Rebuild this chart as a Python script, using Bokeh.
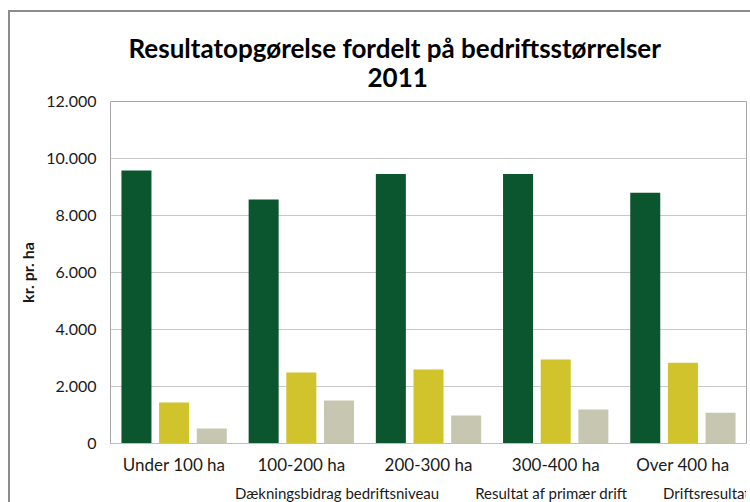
from bokeh.plotting import figure
from bokeh.layouts import column
from bokeh.models import (ColumnDataSource, FactorRange, Range1d, Legend, LegendItem,
                          Title, CustomJSTickFormatter, SingleIntervalTicker)
from bokeh.transform import dodge
from bokeh.embed import file_html
from bokeh.resources import INLINE

title_lines = ["Resultatopgørelse fordelt på bedriftsstørrelser", "2011"]
categories = ["Under 100 ha", "100-200 ha", "200-300 ha", "300-400 ha", "Over 400 ha"]
series_names = ["Dækningsbidrag bedriftsniveau", "Resultat af primær drift", "Driftsresultat"]
daekningsbidrag = [9580, 8560, 9460, 9460, 8800]
resultat_primaer = [1440, 2490, 2600, 2950, 2830]
driftsresultat = [530, 1510, 980, 1190, 1075]
colors = ["#0c562f", "#d1c32c", "#c7c7b1"]
y_label = "kr. pr. ha"

FONT = "Lato"

src = ColumnDataSource(dict(cat=categories, a=daekningsbidrag, b=resultat_primaer, c=driftsresultat))

p = figure(frame_width=636, frame_height=342, x_range=FactorRange(*categories), y_range=Range1d(0, 12000),
           output_backend="svg", toolbar_location=None,
           min_border_left=100, min_border_right=4, min_border_top=89, min_border_bottom=30)

offsets = [-0.296, 0.0, 0.296]
for key, off, col in zip(["a", "b", "c"], offsets, colors):
    p.vbar(x=dodge("cat", off, range=p.x_range), top=key, width=0.236, source=src,
           fill_color=col, line_color=None)

# axes
p.yaxis.ticker = SingleIntervalTicker(interval=2000)
p.yaxis.formatter = CustomJSTickFormatter(code="return tick.toFixed(0).replace(/\\B(?=(\\d{3})+(?!\\d))/g, '.');")
p.yaxis.axis_line_color = None
p.yaxis.major_tick_line_color = None
p.yaxis.minor_tick_line_color = None
p.yaxis.major_label_standoff = 8
p.yaxis.major_label_text_font = FONT
p.yaxis.major_label_text_font_size = "16px"
p.yaxis.major_label_text_color = "#1a1a1a"
p.yaxis.axis_label = y_label
p.yaxis.axis_label_text_font = FONT
p.yaxis.axis_label_text_font_style = "bold"
p.yaxis.axis_label_text_font_size = "16px"
p.yaxis.axis_label_text_color = "#1a1a1a"
p.yaxis.axis_label_standoff = 6

p.xaxis.axis_line_color = "#c0c0c0"
p.xaxis.major_tick_line_color = None
p.xaxis.minor_tick_line_color = None
p.xaxis.major_label_standoff = 4
p.xaxis.major_label_text_font = FONT
p.xaxis.major_label_text_font_size = "17px"
p.xaxis.major_label_text_color = "#1a1a1a"

p.xgrid.grid_line_color = None
p.ygrid.grid_line_color = "#c8c8c8"
p.outline_line_color = "#a6a6a6"
p.background_fill_color = "white"
p.border_fill_color = "white"

# titles: the one added first sits nearest the frame
p.add_layout(Title(text=title_lines[1], align="left", offset=257, standoff=30,
                   text_font=FONT, text_font_style="bold", text_font_size="26px",
                   text_color="#000000"), "above")
p.add_layout(Title(text=title_lines[0], align="left", offset=18, standoff=-26,
                   text_font=FONT, text_font_style="bold", text_font_size="26px",
                   text_color="#000000"), "above")

# legend strip below the chart (its own small plot so the legend sits inside a frame)
leg = figure(width=740, height=29, x_range=Range1d(0, 1), y_range=Range1d(0, 1),
             x_axis_type=None, y_axis_type=None, output_backend="svg", toolbar_location=None,
             min_border=0)
leg.outline_line_color = None
leg.background_fill_color = "white"
leg.border_fill_color = "white"
key_renderers = []
for col in colors:
    key_renderers.append(leg.vbar(x=[], top=[], width=0.1, fill_color=col, line_color=None))

legend = Legend(items=[LegendItem(label=n, renderers=[r]) for n, r in zip(series_names, key_renderers)],
                orientation="horizontal", location=(113, 4),
                glyph_width=9, glyph_height=9, label_standoff=3, spacing=24, label_height=16,
                label_text_font=FONT, label_text_font_size="15px", label_text_color="#1a1a1a",
                border_line_color=None, background_fill_alpha=0, padding=0, margin=0)
leg.add_layout(legend)

layout = column(p, leg, spacing=0)
layout.styles = {"margin-left": "8px", "margin-top": "10px",
                 "border-top": "2px solid #8c8c8c", "border-left": "2px solid #8c8c8c"}

open("out.html", "w").write(file_html(layout, INLINE))
